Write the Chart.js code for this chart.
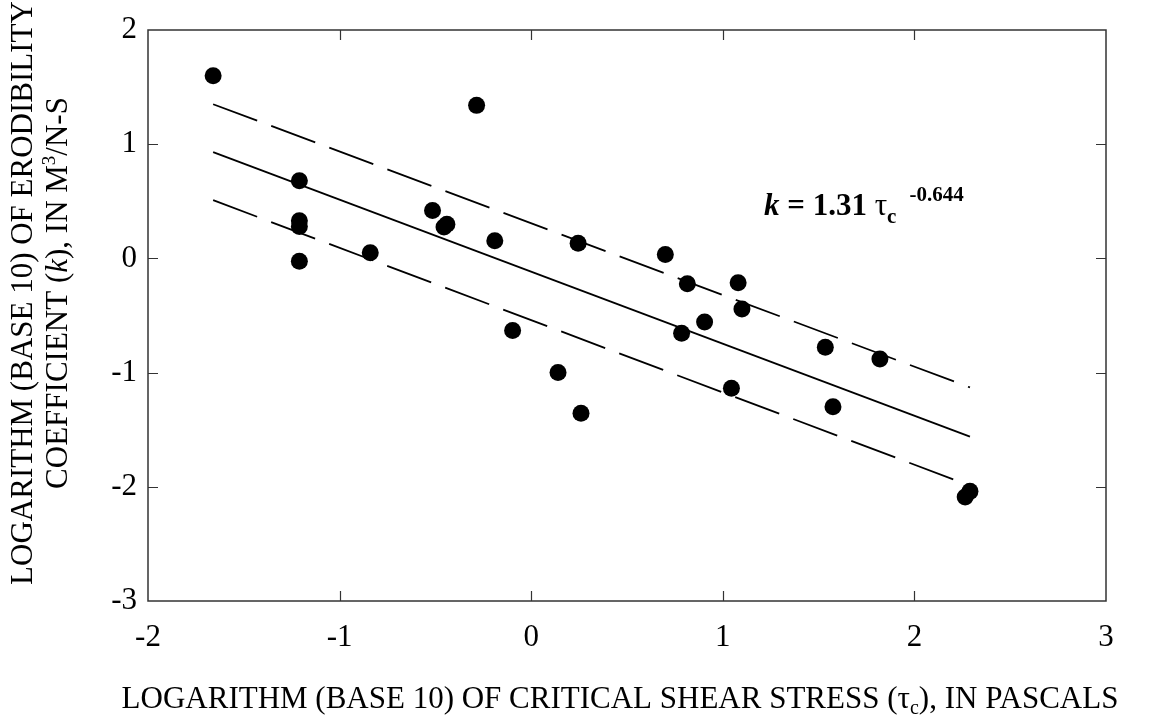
<!DOCTYPE html>
<html><head><meta charset="utf-8">
<script src="https://cdn.jsdelivr.net/npm/chart.js@4.4.1/dist/chart.umd.min.js"></script>
<style>html,body{margin:0;padding:0;background:#fff;}#wrap{width:1160px;height:719px;position:relative;}</style>
</head><body><div id="wrap"><canvas id="c" width="1160" height="719"></canvas></div>
<script>
// Observed data: log10 critical shear stress (x) vs log10 erodibility coefficient (y)
const logTau = [-1.66, -0.285, -1.21, -1.21, -1.21, -1.21, -0.84, -0.515, -0.44, -0.455, -0.19, 0.245, 0.70, 0.815, 1.08, 1.10, 0.905, 0.785, -0.097, 0.14, 0.26, 1.045, 1.535, 1.82, 1.575, 2.265, 2.29];
const logK   = [1.60, 1.34, 0.68, 0.33, 0.28, -0.025, 0.05, 0.42, 0.30, 0.275, 0.155, 0.133, 0.035, -0.222, -0.213, -0.444, -0.556, -0.655, -0.632, -1.0, -1.355, -1.137, -0.778, -0.88, -1.30, -2.09, -2.04];
// Regression line and its confidence bands (end points)
const fitX     = [-1.66, 2.29];
const fitMid   = [0.93, -1.56];
const fitUpper = [1.35, -1.13];
const fitLower = [0.51, -1.99];
// Tick labels
const xTicks = [-2, -1, 0, 1, 2, 3];
const yTicks = [-3, -2, -1, 0, 1, 2];

const SERIF = '"Liberation Serif", "Times New Roman", serif';
const pts = logTau.map((x, i) => ({x, y: logK[i]}));
const line = ys => fitX.map((x, i) => ({x, y: ys[i]}));

function drawRuns(ctx, runs, x, y, align) {
  let total = 0;
  runs.forEach(r => { ctx.font = r.font; r.w = ctx.measureText(r.text).width; total += r.w + (r.gap || 0); });
  let cx = align === 'center' ? x - total / 2 : x;
  runs.forEach(r => {
    ctx.font = r.font;
    ctx.fillText(r.text, cx + (r.gap || 0), y + (r.dy || 0));
    cx += r.w + (r.gap || 0);
  });
}

const framePlugin = {
  id: 'frame',
  beforeDatasetsDraw(chart) {
    const {ctx, chartArea: a, scales} = chart;
    ctx.save();
    ctx.strokeStyle = '#333';
    ctx.lineWidth = 1.5;
    ctx.strokeRect(a.left, a.top, a.right - a.left, a.bottom - a.top);
    ctx.lineWidth = 1.2;
    ctx.beginPath();
    xTicks.slice(1, -1).forEach(v => {
      const px = Math.round(scales.x.getPixelForValue(v)) + 0.5;
      ctx.moveTo(px, a.bottom); ctx.lineTo(px, a.bottom - 10);
      ctx.moveTo(px, a.top); ctx.lineTo(px, a.top + 10);
    });
    yTicks.slice(1, -1).forEach(v => {
      const py = Math.round(scales.y.getPixelForValue(v)) + 0.5;
      ctx.moveTo(a.left, py); ctx.lineTo(a.left + 10, py);
      ctx.moveTo(a.right, py); ctx.lineTo(a.right - 10, py);
    });
    ctx.stroke();
    ctx.restore();
  },
  afterDraw(chart) {
    const {ctx, scales} = chart;
    ctx.save();
    ctx.fillStyle = '#000';
    ctx.textBaseline = 'alphabetic';
    // X axis title
    drawRuns(ctx, [
      {text: 'LOGARITHM (BASE 10) OF CRITICAL SHEAR STRESS (\u03C4', font: '31px ' + SERIF},
      {text: 'c', font: '20px ' + SERIF, dy: 6},
      {text: '), IN PASCALS', font: '31px ' + SERIF}
    ], 620, 708, 'center');
    // Y axis title (rotated)
    ctx.save();
    ctx.translate(32, 293);
    ctx.rotate(-Math.PI / 2);
    drawRuns(ctx, [{text: 'LOGARITHM (BASE 10) OF ERODIBILITY', font: '31px ' + SERIF}], 0, 0, 'center');
    ctx.restore();
    ctx.save();
    ctx.translate(67, 293);
    ctx.rotate(-Math.PI / 2);
    drawRuns(ctx, [
      {text: 'COEFFICIENT (', font: '31px ' + SERIF},
      {text: 'k', font: 'italic 31px ' + SERIF},
      {text: '), IN M', font: '31px ' + SERIF},
      {text: '3', font: '19px ' + SERIF, dy: -12},
      {text: '/N-S', font: '31px ' + SERIF}
    ], 0, 0, 'center');
    ctx.restore();
    // Equation annotation
    const ax = scales.x.getPixelForValue(1.215);
    const ay = scales.y.getPixelForValue(0.377);
    drawRuns(ctx, [
      {text: 'k', font: 'italic bold 31px ' + SERIF},
      {text: ' = 1.31 ', font: 'bold 31px ' + SERIF},
      {text: '\u03C4', font: '31px ' + SERIF},
      {text: 'c', font: 'bold 21px ' + SERIF, dy: 8},
      {text: '-0.644', font: 'bold 21px ' + SERIF, dy: -14, gap: 13}
    ], ax, ay, 'left');
    ctx.restore();
  }
};

Chart.defaults.font.family = SERIF;
Chart.defaults.color = '#000';

new Chart(document.getElementById('c'), {
  type: 'scatter',
  data: {
    datasets: [
      {data: pts, backgroundColor: '#000', borderColor: '#000', pointRadius: 8.5, pointBorderWidth: 0, pointHoverRadius: 8.5, order: 0},
      {type: 'line', data: line(fitMid), showLine: true, borderColor: '#000', borderWidth: 1.8, pointRadius: 0, fill: false, order: 1},
      {type: 'line', data: line(fitUpper), showLine: true, borderColor: '#000', borderWidth: 1.8, borderDash: [47, 15], pointRadius: 0, fill: false, order: 1},
      {type: 'line', data: line(fitLower), showLine: true, borderColor: '#000', borderWidth: 1.8, borderDash: [47, 15], pointRadius: 0, fill: false, order: 1}
    ]
  },
  options: {
    responsive: false,
    animation: false,
    devicePixelRatio: 1,
    layout: {padding: {top: 30, right: 54, left: 0, bottom: 0}},
    plugins: {legend: {display: false}, tooltip: {enabled: false}},
    scales: {
      x: {
        type: 'linear', min: -2, max: 3,
        afterBuildTicks: s => { s.ticks = xTicks.map(v => ({value: v})); },
        afterFit: s => { s.height = 118; },
        grid: {display: false, drawTicks: false},
        border: {display: false},
        ticks: {font: {size: 31, family: SERIF}, color: '#000', padding: 18, maxRotation: 0}
      },
      y: {
        type: 'linear', min: -3, max: 2,
        afterBuildTicks: s => { s.ticks = yTicks.map(v => ({value: v})); },
        afterFit: s => { s.width = 148; },
        grid: {display: false, drawTicks: false},
        border: {display: false},
        ticks: {font: {size: 31, family: SERIF}, color: '#000', padding: 11}
      }
    }
  },
  plugins: [framePlugin]
});
</script>
</body></html>
